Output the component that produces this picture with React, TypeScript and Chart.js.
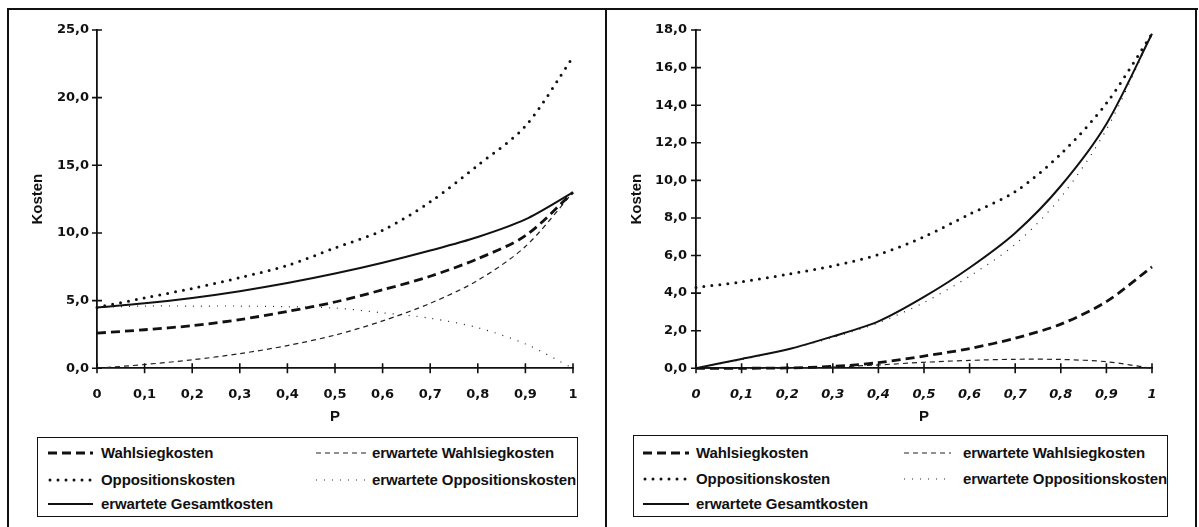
import React, { useEffect, useRef } from "react";
import { Chart, registerables } from "chart.js";

Chart.register(...registerables);

// ---------- data ----------
const P_VALUES = [0, 0.1, 0.2, 0.3, 0.4, 0.5, 0.6, 0.7, 0.8, 0.9, 1];

const SERIES_NAMES = [
  "Wahlsiegkosten",
  "erwartete Wahlsiegkosten",
  "Oppositionskosten",
  "erwartete Oppositionskosten",
  "erwartete Gesamtkosten",
];

// left panel
const L_WAHLSIEG = [2.6, 2.85, 3.15, 3.6, 4.2, 4.9, 5.8, 6.8, 8.1, 9.8, 13.0];
const L_ERW_WAHLSIEG = [0, 0.28, 0.63, 1.08, 1.68, 2.45, 3.5, 4.8, 6.5, 9.0, 13.0];
const L_OPPOSITION = [4.5, 5.2, 5.9, 6.7, 7.6, 8.9, 10.2, 12.3, 15.0, 17.9, 23.0];
const L_ERW_OPPOSITION = [4.5, 4.6, 4.6, 4.6, 4.55, 4.45, 4.1, 3.7, 3.0, 1.8, 0];
const L_GESAMT = [4.5, 4.8, 5.2, 5.7, 6.3, 7.0, 7.8, 8.7, 9.7, 11.0, 13.0];
const L_Y_MAX = 25;
const L_Y_STEP = 5;

// right panel
const R_WAHLSIEG = [0, 0, 0.02, 0.1, 0.3, 0.65, 1.05, 1.6, 2.35, 3.55, 5.4];
const R_ERW_WAHLSIEG = [0, 0, 0.02, 0.07, 0.18, 0.32, 0.42, 0.48, 0.47, 0.35, 0];
const R_OPPOSITION = [4.3, 4.6, 5.0, 5.45, 6.05, 7.0, 8.2, 9.4, 11.4, 14.1, 17.8];
const R_ERW_OPPOSITION = [0, 0.46, 1.0, 1.64, 2.42, 3.5, 4.9, 6.6, 9.1, 12.7, 17.8];
const R_GESAMT = [0, 0.5, 1.0, 1.7, 2.5, 3.8, 5.35, 7.2, 9.7, 13.0, 17.8];
const R_Y_MAX = 18;
const R_Y_STEP = 2;

const X_TITLE = "P";
const Y_TITLE = "Kosten";

// ---------- styles ----------
type LineStyle = { width: number; dash: number[]; cap: CanvasLineCap; color: string };
const STYLES: LineStyle[] = [
  { width: 2.8, dash: [9, 5], cap: "butt", color: "#111" },
  { width: 1.2, dash: [5, 4], cap: "butt", color: "#222" },
  { width: 3, dash: [0, 8], cap: "round", color: "#111" },
  { width: 1.2, dash: [1, 7], cap: "butt", color: "#222" },
  { width: 2, dash: [], cap: "butt", color: "#111" },
];

const TICK_FONT = "'DejaVu Sans', sans-serif";
const TEXT_FONT = "'Liberation Sans', Arial, sans-serif";

const fmtY = (v: number) => v.toFixed(1).replace(".", ",");
const fmtX = (v: number) => {
  const r = Math.round(v * 10) / 10;
  if (r === 0) return "0";
  if (r === 1) return "1";
  return r.toFixed(1).replace(".", ",");
};

const crossTicks = {
  id: "crossTicks",
  afterDraw(chart: any) {
    const { ctx, chartArea } = chart;
    const xs = chart.scales.x;
    const ys = chart.scales.y;
    ctx.save();
    ctx.strokeStyle = "#111";
    ctx.lineWidth = 1.6;
    ctx.beginPath();
    ys.ticks.forEach((_t: any, i: number) => {
      const py = ys.getPixelForTick(i);
      ctx.moveTo(chartArea.left - 5, py);
      ctx.lineTo(chartArea.left + 5, py);
    });
    xs.ticks.forEach((_t: any, i: number) => {
      const px = xs.getPixelForTick(i);
      ctx.moveTo(px, chartArea.bottom - 5);
      ctx.lineTo(px, chartArea.bottom + 5);
    });
    ctx.stroke();
    ctx.restore();
  },
};

type PanelProps = {
  series: number[][];
  yMax: number;
  yStep: number;
  italicX: boolean;
  left: number;
  top: number;
  width: number;
  height: number;
  padLeft: number;
  padTop: number;
  padRight: number;
  yAxisWidth: number;
  xAxisHeight: number;
  yTickPad: number;
};

function ChartPanel(p: PanelProps) {
  const ref = useRef<HTMLCanvasElement | null>(null);
  useEffect(() => {
    if (!ref.current) return;
    const datasets = p.series.map((vals, i) => ({
      label: SERIES_NAMES[i],
      data: P_VALUES.map((x, j) => ({ x, y: vals[j] })),
      borderColor: STYLES[i].color,
      borderWidth: STYLES[i].width,
      borderDash: STYLES[i].dash,
      borderCapStyle: STYLES[i].cap,
      pointRadius: 0,
      fill: false,
      tension: 0.3,
      clip: false as any,
    }));
    const chart = new Chart(ref.current, {
      type: "line",
      data: { datasets },
      plugins: [crossTicks],
      options: {
        animation: false,
        responsive: false,
        layout: { padding: { left: p.padLeft, top: p.padTop, right: p.padRight, bottom: 0 } },
        plugins: { legend: { display: false }, tooltip: { enabled: false } },
        scales: {
          x: {
            type: "linear",
            min: 0,
            max: 1,
            afterFit: (s: any) => {
              s.height = p.xAxisHeight;
            },
            grid: { display: false, drawTicks: false },
            border: { display: true, color: "#111", width: 1.8 },
            ticks: {
              stepSize: 0.1,
              autoSkip: false,
              maxRotation: 0,
              padding: 19,
              color: "#111",
              font: { family: TICK_FONT, size: 13, weight: "bold", style: p.italicX ? "italic" : "normal" },
              callback: (v: any) => fmtX(Number(v)),
            },
            title: {
              display: true,
              text: X_TITLE,
              color: "#111",
              font: { family: TEXT_FONT, size: 15, weight: "bold" },
              padding: { top: 4, bottom: 4 },
            },
          },
          y: {
            type: "linear",
            min: 0,
            max: p.yMax,
            afterFit: (s: any) => {
              s.width = p.yAxisWidth;
            },
            grid: { display: false, drawTicks: false },
            border: { display: true, color: "#111", width: 1.8 },
            ticks: {
              stepSize: p.yStep,
              padding: p.yTickPad,
              color: "#111",
              font: { family: TICK_FONT, size: 13, weight: "bold" },
              callback: (v: any) => fmtY(Number(v)),
            },
            title: {
              display: true,
              text: Y_TITLE,
              color: "#111",
              font: { family: TEXT_FONT, size: 15, weight: "bold" },
              padding: { top: 4, bottom: 4 },
            },
          },
        },
      } as any,
    });
    return () => chart.destroy();
  }, []);
  return (
    <canvas
      ref={ref}
      width={p.width}
      height={p.height}
      style={{ position: "absolute", left: p.left, top: p.top, width: p.width, height: p.height }}
    />
  );
}

function Sample({ s, w }: { s: LineStyle; w: number }) {
  return (
    <svg width={w} height={8} style={{ display: "block" }}>
      <line
        x1={s.cap === "round" ? 2 : 0}
        y1={4}
        x2={w}
        y2={4}
        stroke={s.color}
        strokeWidth={s.width}
        strokeDasharray={s.dash.length ? s.dash.join(" ") : undefined}
        strokeLinecap={s.cap}
      />
    </svg>
  );
}

type LegendProps = {
  left: number;
  top: number;
  width: number;
  height: number;
  rows: number[];
  col1: [number, number, number];
  col2: [number, number, number];
};

function Legend(p: LegendProps) {
  const place = [
    { idx: 0, col: p.col1, row: 0 },
    { idx: 1, col: p.col2, row: 0 },
    { idx: 2, col: p.col1, row: 1 },
    { idx: 3, col: p.col2, row: 1 },
    { idx: 4, col: p.col1, row: 2 },
  ];
  return (
    <div
      style={{
        position: "absolute",
        left: p.left,
        top: p.top,
        width: p.width,
        height: p.height,
        border: "1.5px solid #111",
        boxSizing: "border-box",
      }}
    >
      {place.map(({ idx, col, row }) => (
        <React.Fragment key={idx}>
          <div style={{ position: "absolute", left: col[0], top: p.rows[row] - 4 }}>
            <Sample s={STYLES[idx]} w={col[1] - col[0]} />
          </div>
          <div
            style={{
              position: "absolute",
              left: col[2],
              top: p.rows[row] - 10,
              height: 20,
              lineHeight: "20px",
              fontFamily: TEXT_FONT,
              fontWeight: "bold",
              fontSize: 15,
              letterSpacing: -0.1,
              color: "#111",
              whiteSpace: "nowrap",
            }}
          >
            {SERIES_NAMES[idx]}
          </div>
        </React.Fragment>
      ))}
    </div>
  );
}

export default function App() {
  return (
    <div
      style={{
        position: "fixed",
        left: 0,
        top: 0,
        width: 1199,
        height: 527,
        overflow: "hidden",
        background: "#fff",
      }}
    >
      {/* frames */}
      <div style={{ position: "absolute", left: 7, top: 8, width: 1191, height: 2, background: "#111" }} />
      <div style={{ position: "absolute", left: 7, top: 8, width: 2, height: 519, background: "#111" }} />
      <div style={{ position: "absolute", left: 605, top: 8, width: 2, height: 519, background: "#111" }} />
      <div style={{ position: "absolute", left: 1195, top: 8, width: 2, height: 519, background: "#111" }} />

      <ChartPanel
        series={[L_WAHLSIEG, L_ERW_WAHLSIEG, L_OPPOSITION, L_ERW_OPPOSITION, L_GESAMT]}
        yMax={L_Y_MAX}
        yStep={L_Y_STEP}
        italicX={false}
        left={10}
        top={10}
        width={590}
        height={420}
        padLeft={15}
        padTop={20}
        padRight={27}
        yAxisWidth={72}
        xAxisHeight={61.7}
        yTickPad={8}
      />
      <ChartPanel
        series={[R_WAHLSIEG, R_ERW_WAHLSIEG, R_OPPOSITION, R_ERW_OPPOSITION, R_GESAMT]}
        yMax={R_Y_MAX}
        yStep={R_Y_STEP}
        italicX={true}
        left={612}
        top={10}
        width={565}
        height={420}
        padLeft={11.7}
        padTop={20}
        padRight={25}
        yAxisWidth={72.3}
        xAxisHeight={61.7}
        yTickPad={9}
      />

      <Legend
        left={37}
        top={437}
        width={541}
        height={80}
        rows={[15, 42, 66]}
        col1={[10, 55, 63]}
        col2={[278, 328, 334]}
      />
      <Legend
        left={633}
        top={435}
        width={535}
        height={82}
        rows={[16.5, 43, 67.5]}
        col1={[9, 55, 62]}
        col2={[270, 317, 329]}
      />
    </div>
  );
}
